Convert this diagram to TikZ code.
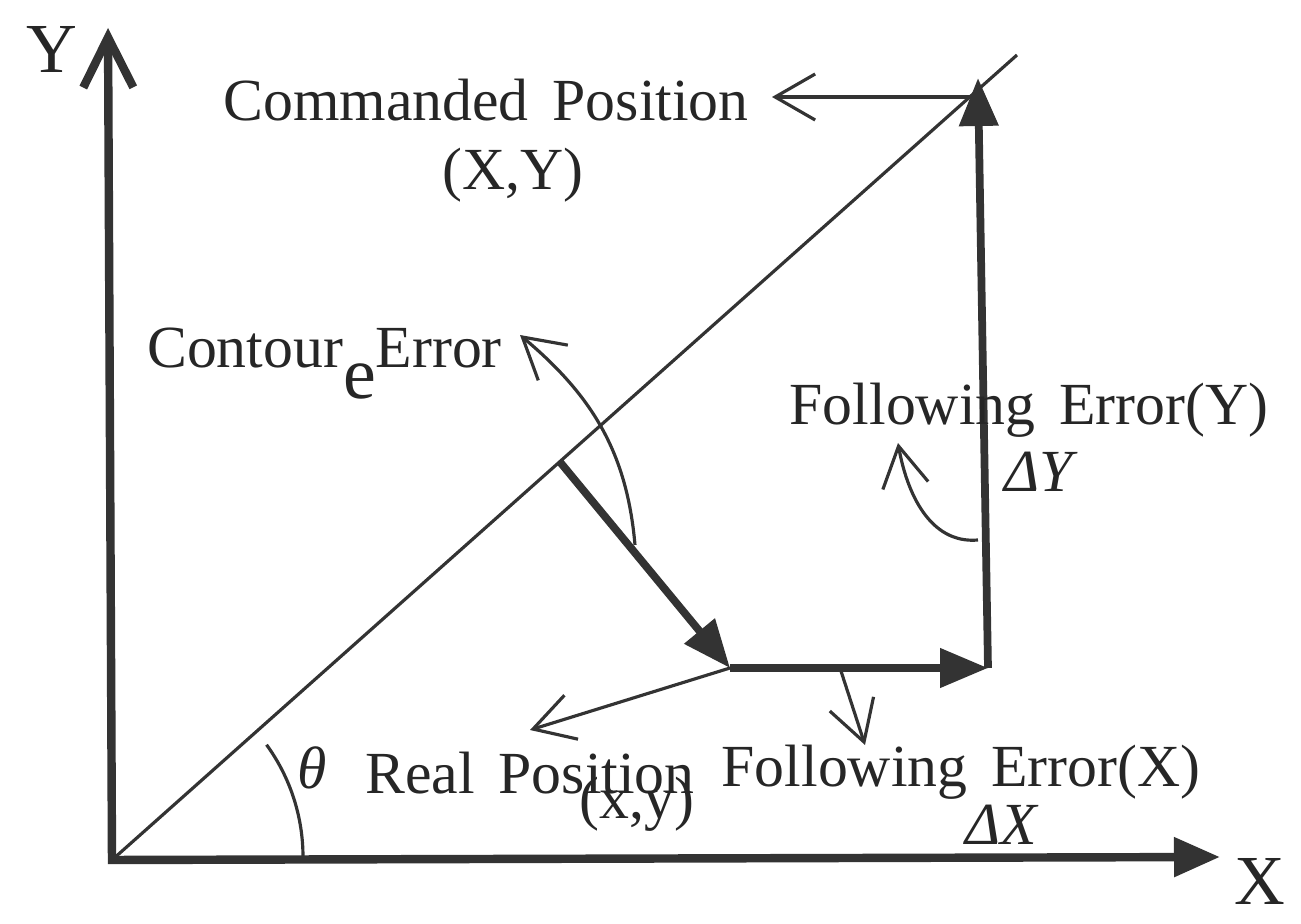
\documentclass[tikz,border=0pt]{standalone}
\usepackage{fontspec}
\setmainfont{Liberation Serif}[WordSpace=1.6]
\usetikzlibrary{arrows.meta, positioning}
\tikzset{
    axisline/.style={line width=2.4pt, draw=black!80},
    vecarrow/.style={line width=2.2pt, draw=black!80, -{Triangle[length=4.8mm, width=3.8mm]}},
    tagarrow/.style={line width=0.9pt, draw=black!80, -{Straight Barb[length=4mm, width=4.6mm]}},
    txt/.style={font=\fontsize{17}{19}\selectfont, text=black!85, inner sep=1pt},
    axistxt/.style={font=\fontsize{20}{22}\selectfont, text=black!85, inner sep=0pt}
}

\begin{document}
\begin{tikzpicture}
  \useasboundingbox (0,0) rectangle (13.01,9.23);
  % points
  \coordinate (O) at (1.12,0.63);
  \coordinate (ytip) at (1.08,8.95);
  \coordinate (xtip) at (12.20,0.66);
  \coordinate (diagend) at (10.17,8.68);
  \coordinate (foot) at (5.60,4.61);
  \coordinate (real) at (7.30,2.55);
  \coordinate (corner) at (9.88,2.55);
  \coordinate (cmd) at (9.78,8.45);
  % axes and path
  \draw[axisline, {Straight Barb[length=5mm, width=5mm]}-{Triangle[length=4.6mm, width=3.8mm]}] (ytip) -- (O) -- (xtip);
  \draw[line width=0.9pt, black!80] (O) -- (diagend);
  \draw[vecarrow] (foot) -- (real);
  \draw[vecarrow] (real) -- (corner);
  \draw[vecarrow] (corner) -- (cmd);
  % labels
  \node[axistxt] (ylbl) at (0.52,8.74) {Y};
  \node[axistxt] (xlbl) at (12.60,0.42) {X};
  \node[txt] (cmdlbl) at (4.86,8.23) {Commanded Position};
  \node[txt] (cmdxy) at (5.13,7.48) {(X,Y)};
  \node[txt, anchor=base west] (contour) at (1.43,5.55) {Contour\raisebox{-1.1ex}{\fontsize{21}{23}\selectfont e}Error};
  \node[txt] (folylbl) at (10.29,5.13) {Following Error(Y)};
  \node[txt] (dy) at (10.41,4.51) {\textit{ΔY}};
  \node[txt] (theta) at (3.12,1.55) {\textit{θ}};
  \node[txt] (reallbl) at (5.30,1.50) {Real Position};
  \node[txt] (realxy) at (6.37,1.19) {(x,y)};
  \node[txt] (folxlbl) at (9.61,1.51) {Following Error(X)};
  \node[txt] (dx) at (10.02,0.98) {\textit{ΔX}};
  % pointers
  \coordinate (cmdtail) at (9.75,8.26);
  \coordinate (cmdtip) at (7.72,8.26);
  \coordinate (contail) at (6.35,3.78);
  \coordinate (contip) at (5.20,5.88);
  \coordinate (folytail) at (9.78,3.83);
  \coordinate (folytip) at (8.98,4.80);
  \coordinate (realtip) at (5.30,1.93);
  \coordinate (folxtail) at (8.40,2.55);
  \coordinate (folxtip) at (8.65,1.78);
  \draw[tagarrow] (cmdtail) -- (cmdtip);
  \draw[tagarrow] (contail) to[out=95, in=-40] (contip);
  \draw[tagarrow] (folytail) to[out=185, in=-80] (folytip);
  \draw[tagarrow] (real) -- (realtip);
  \draw[tagarrow] (folxtail) -- (folxtip);
  \draw[line width=0.9pt, black!80] (3.03,0.66) arc[start angle=0, end angle=36, radius=1.91];
\end{tikzpicture}
\end{document}
